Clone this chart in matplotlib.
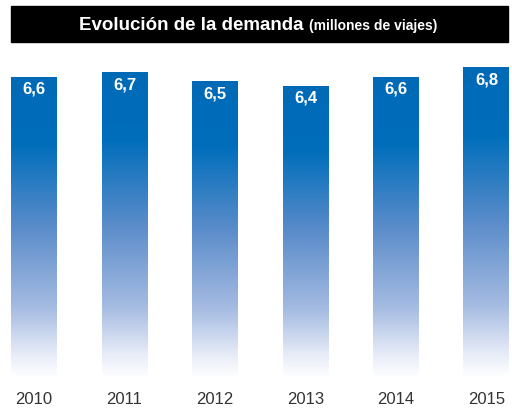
import matplotlib.pyplot as plt
import numpy as np
from matplotlib.colors import LinearSegmentedColormap

years = ['2010', '2011', '2012', '2013', '2014', '2015']
demand = [6.6, 6.7, 6.5, 6.4, 6.6, 6.8]
labels = ['6,6', '6,7', '6,5', '6,4', '6,6', '6,8']

plt.rcParams['font.family'] = ['Liberation Sans', 'DejaVu Sans']

# gradient white at bottom -> blue at top
cmap = LinearSegmentedColormap.from_list('grad', [
    (0.0, '#ffffff'),
    (0.08, '#e6ebf7'),
    (0.23, '#a6bce2'),
    (0.5, '#5b8cca'),
    (0.78, '#006ebb'),
    (1.0, '#006ab7'),
])

fig = plt.figure(figsize=(5.12, 4.10), dpi=100)
ax = fig.add_axes([0, 0, 1, 1])
ax.set_xlim(-0.3757, 5.282)
ax.set_ylim(-0.680, 8.311)
ax.axis('off')

w = 0.508
grad = np.linspace(0, 1, 256).reshape(-1, 1)
for i, v in enumerate(demand):
    ax.imshow(grad, cmap=cmap, origin='lower', aspect='auto',
              extent=[i - w/2, i + w/2, 0, v], interpolation='bilinear')
    ax.annotate(labels[i], (i, v), xytext=(0, -8), textcoords='offset points',
                ha='center', va='center', color='white', fontsize=12,
                fontweight='bold')
    ax.text(i, -0.46, years[i], ha='center', va='center', fontsize=12,
            color='#333333')

# title bar
fig.patches.append(plt.Rectangle((11/512, 1 - 43/410), 497/512, 36/410,
                                 transform=fig.transFigure, color='black'))
t1 = fig.text(0, 1 - 25/410, 'Evolución de la demanda ', color='white',
              fontsize=13.5, fontweight='bold', va='center')
t2 = fig.text(0, 1 - 26/410, '(millones de viajes)', color='white',
              fontsize=10, fontweight='bold', va='center')
fig.canvas.draw()
r = fig.canvas.get_renderer()
w1 = t1.get_window_extent(r).width
w2 = t2.get_window_extent(r).width
x0 = 258 - (w1 + w2) / 2
t1.set_x(x0 / 512)
t2.set_x((x0 + w1) / 512)

fig.savefig('out.png', dpi=100)
